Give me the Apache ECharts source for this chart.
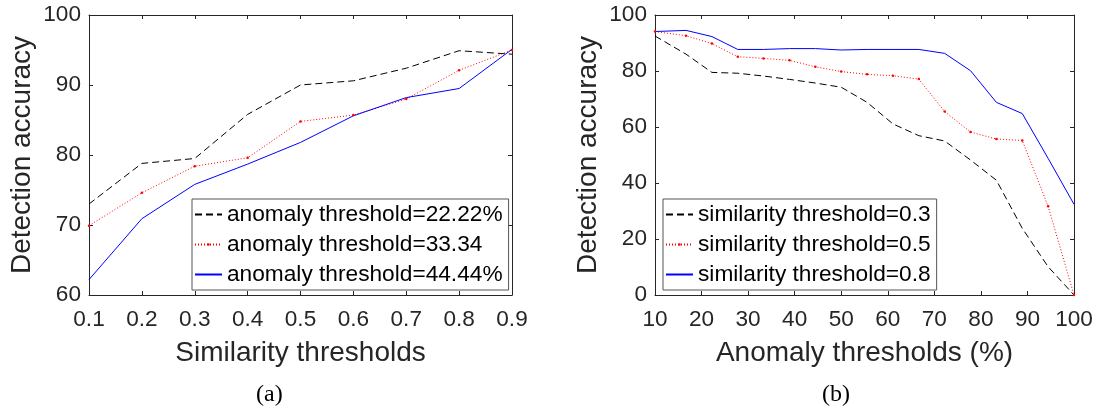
<!DOCTYPE html>
<html>
<head>
<meta charset="utf-8">
<script src="https://cdn.jsdelivr.net/npm/echarts@6/dist/echarts.min.js"></script>
<style>
html,body{margin:0;padding:0;background:#fff;}
#chart{width:1100px;height:412px;}
</style>
</head>
<body>
<div id="chart"></div>
<script>
// ---- Panel (a) data ----
const simCategories = ['0.1','0.2','0.3','0.4','0.5','0.6','0.7','0.8','0.9'];
const leftNames = ['anomaly threshold=22.22%','anomaly threshold=33.34','anomaly threshold=44.44%'];
const leftBlack = [73.0, 78.8, 79.5, 85.8, 90.0, 90.6, 92.4, 94.9, 94.4];
const leftRed   = [69.9, 74.6, 78.4, 79.6, 84.8, 85.7, 88.0, 92.1, 95.0];
const leftBlue  = [62.2, 70.9, 75.8, 78.7, 81.8, 85.6, 88.2, 89.5, 95.1];

// ---- Panel (b) data ----
const anomalyX = [10, 16.67, 22.22, 27.78, 33.33, 38.89, 44.44, 50, 55.56, 61.11, 66.67, 72.22, 77.78, 83.33, 88.89, 94.44, 100];
const rightNames = ['similarity threshold=0.3','similarity threshold=0.5','similarity threshold=0.8'];
const rightBlack = [92.5, 86.0, 79.5, 79.2, 78.2, 77.0, 75.7, 74.2, 68.8, 61.1, 56.9, 55.0, 48.2, 41.0, 23.8, 10.1, 0];
const rightRed   = [94.1, 92.6, 89.8, 85.1, 84.5, 83.8, 81.5, 79.8, 78.8, 78.3, 77.1, 65.5, 58.2, 55.7, 55.2, 31.7, 0];
const rightBlue  = [94.1, 94.5, 92.3, 87.7, 87.7, 88.0, 88.0, 87.5, 87.7, 87.7, 87.7, 86.3, 80.1, 68.8, 64.8, 48.8, 32.4];

const captions = ['(a)', '(b)'];

const FONT = 'Liberation Sans, Arial, Helvetica, sans-serif';
const AX = '#262626';
const pair = (xs, ys) => xs.map((x, i) => [x, ys[i]]);

const lineStyleOf = [
  {color:'#000000', width:1, type:[7,4]},
  {color:'#ff0000', width:1, type:[1,2]},
  {color:'#0000ff', width:1, type:'solid'}
];
const symbolOf = ['none', 'circle', 'none'];

function mkSeries(name, data, idx, xi, yi) {
  return {
    type: 'line', name: name, data: data,
    xAxisIndex: xi, yAxisIndex: yi,
    symbol: symbolOf[idx], symbolSize: 2.5, showSymbol: idx === 1,
    itemStyle: {color: lineStyleOf[idx].color},
    lineStyle: lineStyleOf[idx],
    silent: true, animation: false, clip: false
  };
}

// legend entries: only the dotted series shows a marker dot
function legendData(names) {
  return names.map((n, i) => i === 1 ? {name: n} : {name: n, itemStyle: {opacity: 0}});
}

function baseAxisLine() { return {show:true, onZero:false, lineStyle:{color:AX, width:1}}; }
function tick() { return {show:true, inside:true, length:4, lineStyle:{color:AX, width:1}}; }

const TICKFS = 22.6, TITLEFS = 28, LEGFS = 22.7;

const option = {
  backgroundColor: '#ffffff',
  animation: false,
  grid: [
    {left: 89, top: 15, width: 423, height: 280},
    {left: 655, top: 15, width: 419, height: 280}
  ],
  xAxis: [
    {gridIndex:0, type:'category', data:simCategories, boundaryGap:false, position:'bottom',
     axisLine:baseAxisLine(), axisTick:Object.assign(tick(), {alignWithLabel:true}),
     axisLabel:{color:AX, fontSize:TICKFS, fontFamily:FONT, margin:13},
     splitLine:{show:false},
     name:'Similarity thresholds', nameLocation:'middle', nameGap:44,
     nameTextStyle:{color:AX, fontSize:TITLEFS, fontFamily:FONT}},
    {gridIndex:0, type:'category', data:simCategories, boundaryGap:false, position:'top',
     axisLine:baseAxisLine(), axisTick:tick(), axisLabel:{show:false}, splitLine:{show:false}},
    {gridIndex:1, type:'value', min:10, max:100, interval:10, position:'bottom',
     axisLine:baseAxisLine(), axisTick:tick(),
     axisLabel:{color:AX, fontSize:TICKFS, fontFamily:FONT, margin:13},
     splitLine:{show:false},
     name:'Anomaly thresholds (%)', nameLocation:'middle', nameGap:44,
     nameTextStyle:{color:AX, fontSize:TITLEFS, fontFamily:FONT}},
    {gridIndex:1, type:'value', min:10, max:100, interval:10, position:'top',
     axisLine:baseAxisLine(), axisTick:tick(), axisLabel:{show:false}, splitLine:{show:false}}
  ],
  yAxis: [
    {gridIndex:0, type:'value', min:60, max:100, interval:10, position:'left',
     axisLine:baseAxisLine(), axisTick:tick(),
     axisLabel:{color:AX, fontSize:TICKFS, fontFamily:FONT, margin:8},
     splitLine:{show:false},
     name:'Detection accuracy', nameLocation:'middle', nameGap:53,
     nameTextStyle:{color:AX, fontSize:TITLEFS, fontFamily:FONT}},
    {gridIndex:0, type:'value', min:60, max:100, interval:10, position:'right',
     axisLine:baseAxisLine(), axisTick:tick(), axisLabel:{show:false}, splitLine:{show:false}},
    {gridIndex:1, type:'value', min:0, max:100, interval:20, position:'left',
     axisLine:baseAxisLine(), axisTick:tick(),
     axisLabel:{color:AX, fontSize:TICKFS, fontFamily:FONT, margin:8},
     splitLine:{show:false},
     name:'Detection accuracy', nameLocation:'middle', nameGap:53,
     nameTextStyle:{color:AX, fontSize:TITLEFS, fontFamily:FONT}},
    {gridIndex:1, type:'value', min:0, max:100, interval:20, position:'right',
     axisLine:baseAxisLine(), axisTick:tick(), axisLabel:{show:false}, splitLine:{show:false}}
  ],
  legend: [
    {data: legendData(leftNames), orient:'vertical', left:192, top:199,
     itemWidth:27, itemHeight:3, itemGap:7, padding:[4,6,4,2],
     backgroundColor:'#ffffff', borderColor:'#555555', borderWidth:1,
     textStyle:{color:'#000', fontSize:LEGFS, fontFamily:FONT, lineHeight:22},
     selectedMode:false},
    {data: legendData(rightNames), orient:'vertical', left:663, top:199,
     itemWidth:27, itemHeight:3, itemGap:7, padding:[4,6,4,2],
     backgroundColor:'#ffffff', borderColor:'#555555', borderWidth:1,
     textStyle:{color:'#000', fontSize:LEGFS, fontFamily:FONT, lineHeight:22},
     selectedMode:false}
  ],
  graphic: [
    {type:'text', left:256, top:383, style:{text:captions[0], fontSize:24, fontFamily:'Liberation Serif, Times New Roman, serif', fill:'#000'}},
    {type:'text', left:822, top:383, style:{text:captions[1], fontSize:24, fontFamily:'Liberation Serif, Times New Roman, serif', fill:'#000'}}
  ],
  series: [
    mkSeries(leftNames[0], leftBlack, 0, 0, 0),
    mkSeries(leftNames[1], leftRed, 1, 0, 0),
    mkSeries(leftNames[2], leftBlue, 2, 0, 0),
    mkSeries(rightNames[0], pair(anomalyX, rightBlack), 0, 2, 2),
    mkSeries(rightNames[1], pair(anomalyX, rightRed), 1, 2, 2),
    mkSeries(rightNames[2], pair(anomalyX, rightBlue), 2, 2, 2)
  ]
};

const chart = echarts.init(document.getElementById('chart'), null, {renderer:'canvas'});
chart.setOption(option);
</script>
</body>
</html>
